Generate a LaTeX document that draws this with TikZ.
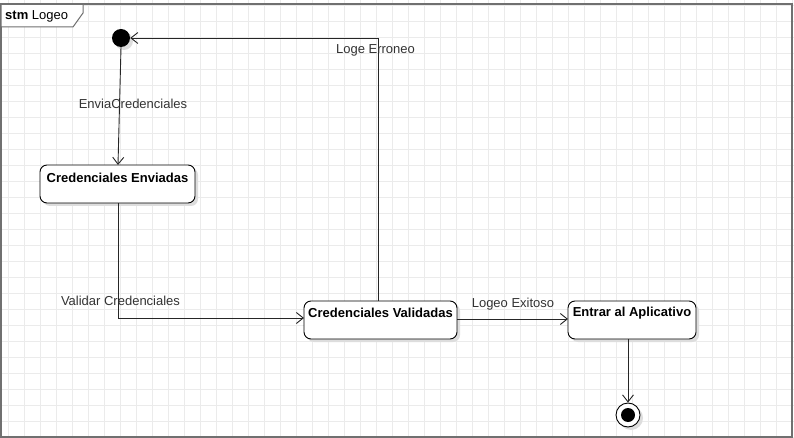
\documentclass[tikz,border=0pt]{standalone}
\usepackage{fontspec}
\setmainfont{Liberation Sans}
\usetikzlibrary{arrows.meta}
\definecolor{gridc}{HTML}{EBEBEB}
\definecolor{framec}{HTML}{707070}
\definecolor{shadowc}{HTML}{DDDDDD}
\begin{document}
\begin{tikzpicture}[x=1pt,y=-1pt,
  state/.style={draw=black, line width=0.9pt, rounded corners=7pt, fill=white, minimum height=38pt, inner sep=0pt},
  shad/.style={fill=shadowc, rounded corners=7pt, minimum height=38pt, inner sep=0pt},
  stxt/.style={inner sep=0pt, font=\bfseries\fontsize{13}{15}\selectfont},
  lbl/.style={font=\fontsize{13}{15}\selectfont, text=black!80, inner sep=0pt},
  conn/.style={draw=black!85, line width=0.9pt, -{Straight Barb[length=7pt,width=11pt,line width=0.9pt]}}
]
\useasboundingbox (0,0) rectangle (794,438);
\fill[white] (0,0) rectangle (794,438);
% grid
\foreach \gx in {8.7,24.7,...,794} \draw[gridc, line width=0.7pt] (\gx,0) -- (\gx,438);
\foreach \gy in {5.3,21.3,...,438} \draw[gridc, line width=0.7pt] (0,\gy) -- (794,\gy);
% frame
\draw[framec, line width=2pt] (1,4.5) rectangle (791.5,436.5);
\draw[framec, line width=1pt, fill=white] (1,4.5) -- (83,4.5) -- (83,13) -- (73,27) -- (1,27) -- cycle;
\node[anchor=west, inner sep=0pt, font=\fontsize{13}{15}\selectfont] (title) at (5,16) {\textbf{stm} Logeo};
% shadows
\node[shad, minimum width=155pt] (envs) at (120.5,187) {};
\node[shad, minimum width=153pt] (vals) at (383.5,323) {};
\node[shad, minimum width=128pt] (ents) at (635,323) {};
% states
\node[state, minimum width=155pt] (env) at (117.5,184) {};
\node[stxt] (envt) at (117.5,178) {Credenciales Enviadas};
\node[state, minimum width=153pt] (val) at (380.5,320) {};
\node[stxt] (valt) at (380.5,313) {Credenciales Validadas};
\node[state, minimum width=128pt] (ent) at (632,320) {};
\node[stxt] (entt) at (632,313) {Entrar al Aplicativo};
% initial
\fill[shadowc] (124,41) circle (9);
\node[circle, fill=black, minimum size=18pt, inner sep=0pt] (init) at (121,38) {};
% final
\fill[shadowc] (631,418) circle (12);
\node[circle, draw=black, fill=white, line width=0.9pt, minimum size=24pt, inner sep=0pt] (fin) at (628,415) {};
\node[circle, fill=black, minimum size=14pt, inner sep=0pt] (finin) at (628,415) {};
% coordinates
\coordinate (encTop) at (118,165);
\coordinate (encBot) at (118,203);
\coordinate (bend1) at (118,318);
\coordinate (valL) at (304,318);
\coordinate (valR) at (457,319);
\coordinate (valTop) at (378,301);
\coordinate (bend2) at (378,38);
\coordinate (entL) at (568,319);
\coordinate (entBot) at (628,339);
% connectors
\draw[conn] (init.south) -- (encTop);
\draw[conn] (encBot) -- (bend1) -- (valL);
\draw[conn] (valR) -- (entL);
\draw[conn] (valTop) -- (bend2) -- (init.east);
\draw[conn] (entBot) -- (fin.north);
% labels
\node[lbl] (l1) at (133,104) {EnviaCredenciales};
\node[lbl] (l2) at (120.5,301) {Validar Credenciales};
\node[lbl] (l3) at (513,304) {Logeo Exitoso};
\node[lbl] (l4) at (375.5,50) {Loge Erroneo};
\end{tikzpicture}
\end{document}
